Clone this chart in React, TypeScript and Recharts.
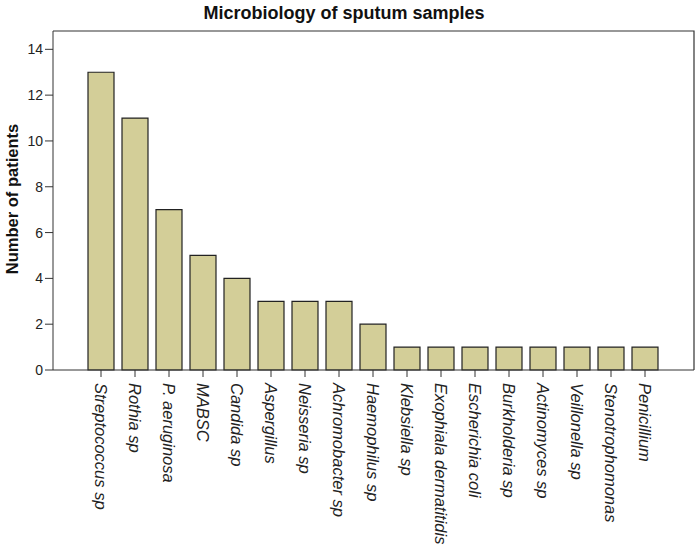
import { BarChart, Bar, XAxis, YAxis } from 'recharts'

const organisms = [
  'Streptococcus sp',
  'Rothia sp',
  'P. aeruginosa',
  'MABSC',
  'Candida sp',
  'Aspergillus',
  'Neisseria sp',
  'Achromobacter sp',
  'Haemophilus sp',
  'Klebsiella sp',
  'Exophiala dermatitidis',
  'Escherichia coli',
  'Burkholderia sp',
  'Actinomyces sp',
  'Veillonella sp',
  'Stenotrophomonas',
  'Penicillium',
]
const patients = [13, 11, 7, 5, 4, 3, 3, 3, 2, 1, 1, 1, 1, 1, 1, 1, 1]
const yTicks = [0, 2, 4, 6, 8, 10, 12, 14]

const data = organisms.map((name, i) => ({ name, patients: patients[i] }))

const FONT = '"Liberation Sans", Arial, sans-serif'

// plot frame (top and right edges are drawn by hand, recharts only gives the axes)
const PLOT = { left: 53, right: 694, top: 31, bottom: 370 }

function OrganismTick(props: any) {
  const { x, y, payload } = props
  return (
    <text
      x={0}
      y={0}
      transform={`translate(${x - 6},${y + 4}) rotate(90)`}
      textAnchor="start"
      fontSize={16.5}
      fontStyle="italic"
      fontFamily={FONT}
      fill="#222"
    >
      {payload.value}
    </text>
  )
}

export default function App() {
  return (
    <div style={{ position: 'absolute', left: 0, top: 0, width: 700, height: 549, background: '#fff' }}>
      <div style={{ position: 'absolute', left: 0, top: 0 }}>
        <BarChart
          width={700}
          height={549}
          data={data}
          margin={{ top: PLOT.top, right: 700 - PLOT.right, left: 0, bottom: 0 }}
          barSize={26}
        >
          <XAxis
            dataKey="name"
            interval={0}
            height={549 - PLOT.bottom}
            padding={{ left: 31, right: 32 }}
            stroke="#333"
            tickSize={7}
            tick={<OrganismTick />}
          />
          <YAxis
            domain={[0, 14.8]}
            ticks={yTicks}
            width={PLOT.left}
            stroke="#333"
            tickSize={8}
            tick={{ fontSize: 14, fill: '#222', fontFamily: FONT }}
          />
          <Bar dataKey="patients" fill="#D3CE98" stroke="#222" strokeWidth={1.2} isAnimationActive={false} />
        </BarChart>
      </div>
      <svg width={700} height={549} style={{ position: 'absolute', left: 0, top: 0, pointerEvents: 'none' }}>
        <polyline
          points={`${PLOT.left},${PLOT.top} ${PLOT.right},${PLOT.top} ${PLOT.right},${PLOT.bottom}`}
          fill="none"
          stroke="#333"
          strokeWidth={1.2}
        />
        <text x={344} y={19} textAnchor="middle" fontSize={18} fontWeight="bold" fontFamily={FONT} fill="#111">
          Microbiology of sputum samples
        </text>
        <text
          transform="translate(18,199) rotate(-90)"
          textAnchor="middle"
          fontSize={16.5}
          fontWeight="bold"
          fontFamily={FONT}
          fill="#111"
        >
          Number of patients
        </text>
      </svg>
    </div>
  )
}
